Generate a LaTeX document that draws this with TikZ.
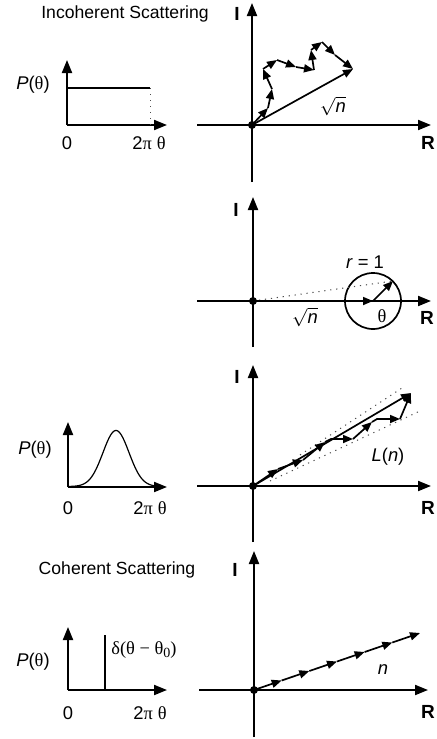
\documentclass[tikz,border=0pt]{standalone}
\usepackage{fontspec}
\setmainfont{Liberation Sans}
\newfontfamily\grkfont{Liberation Serif}
\newcommand{\gk}[1]{{\grkfont #1}}
\usetikzlibrary{arrows.meta,calc}
\begin{document}
\begin{tikzpicture}[x=0.5pt,y=-0.5pt,
  font=\fontsize{9.2}{11}\selectfont,
  axis/.style={line width=1pt,-{Triangle[length=6.5pt,width=5pt]}},
  vec/.style={line width=0.85pt,-{Triangle[length=5pt,width=4pt]}},
  dotline/.style={line width=0.5pt,dash pattern=on 0.6pt off 2.4pt,black!70},
  lbl/.style={inner sep=0pt},
  ttl/.style={inner sep=0pt,font=\fontsize{8.8}{10}\selectfont},
  axlbl/.style={inner sep=0pt,font=\fontsize{9.5}{11}\selectfont\bfseries},
  dotmark/.style={fill=black}]
\useasboundingbox (0,0) rectangle (437,739);

% ================= Panel 1: incoherent =================
\node[ttl] (t1) at (125,14) {Incoherent Scattering};
\coordinate (O1) at (252,125);
\draw[axis] (252,182) -- (252,3);
\draw[axis] (197,125) -- (431,125);
\node[axlbl] (I1) at (237,14) {I};
\node[axlbl] (R1) at (428,143) {R};
\coordinate (w1) at (268,108);
\coordinate (w2) at (272,89);
\coordinate (w3) at (263,69);
\coordinate (w4) at (277,60);
\coordinate (w5) at (296,67);
\coordinate (w6) at (314,70);
\coordinate (w7) at (311,50);
\coordinate (w8) at (322,42);
\coordinate (w9) at (335,55);
\coordinate (w10) at (353,69);
\draw[vec] (O1) -- (w1);
\draw[vec] (w1) -- (w2);
\draw[vec] (w2) -- (w3);
\draw[vec] (w3) -- (w4);
\draw[vec] (w4) -- (w5);
\draw[vec] (w5) -- (w6);
\draw[vec] (w6) -- (w7);
\draw[vec] (w7) -- (w8);
\draw[vec] (w8) -- (w9);
\draw[vec] (w9) -- (w10);
\draw[vec] (O1) -- (w10);
\fill[dotmark] (O1) circle[radius=2pt];
\node[lbl] (sq1) at (333,106) {$\sqrt{\mbox{\itshape n}}$};
% small plot 1
\coordinate (p1) at (67,125);
\draw[axis] (p1) -- (67,60);
\draw[axis] (p1) -- (167,125);
\draw[line width=0.7pt] (67,88) -- (150,88);
\draw[dotline] (150,88) -- (150,125);
\node[lbl] (P1) at (33,85) {\textit{P}(\gk{θ})};
\node[lbl] (z1) at (67,143) {0};
\node[lbl] (tp1) at (149,143) {2\gk{π} \gk{θ}};

% ================= Panel 2: circle =================
\coordinate (O2) at (253,301);
\draw[axis] (253,347) -- (253,197);
\draw[axis] (197,301) -- (431,301);
\node[axlbl] (I2) at (236,210) {I};
\node[axlbl] (R2) at (427,318) {R};
\coordinate (C2) at (373,301);
\coordinate (T2) at (393,281);
\draw[line width=0.85pt] (C2) circle[radius=14pt];
\draw[dotline] (O2) -- (T2);
\draw[vec] (O2) -- (C2);
\draw[vec] (C2) -- (T2);
\fill[dotmark] (O2) circle[radius=2pt];
\node[lbl] (r2) at (365,262) {\textit{r} = 1};
\node[lbl] (th2) at (382,316) {\gk{θ}};
\node[lbl] (sq2) at (305,317) {$\sqrt{\mbox{\itshape n}}$};

% ================= Panel 3: partial coherence =================
\coordinate (O3) at (253,486);
\draw[axis] (253,542) -- (253,365);
\draw[axis] (197,486) -- (431,486);
\node[axlbl] (I3) at (237,377) {I};
\node[axlbl] (R3) at (428,508) {R};
\coordinate (a1) at (278,469);
\coordinate (a2) at (303,460);
\coordinate (a3) at (325,442);
\coordinate (a3b) at (331,439);
\coordinate (a4) at (353,439);
\coordinate (a5) at (372,422);
\coordinate (a5b) at (377,419);
\coordinate (a6) at (400,419);
\coordinate (a7) at (411,393);
\draw[dotline] (300,455) -- (405,386);
\draw[dotline] (270,481) -- (420,411);
\draw[vec] (O3) -- (a1);
\draw[vec] (a1) -- (a2);
\draw[vec] (a2) -- (a3);
\draw[vec] (a3) -- (a3b) -- (a4);
\draw[vec] (a4) -- (a5);
\draw[vec] (a5) -- (a5b) -- (a6);
\draw[vec] (a6) -- (a7);
\draw[vec] (O3) -- (a7);
\fill[dotmark] (O3) circle[radius=2pt];
\node[lbl] (L3) at (388,457) {\textit{L}(\textit{n})};
% small plot 3
\coordinate (p3) at (68,487);
\draw[axis] (p3) -- (68,422);
\draw[axis] (p3) -- (167,487);
\draw[line width=0.6pt] plot[domain=68:160,samples=90] (\x,{486.5-56*exp(-((\x-116)^2)/338)});
\node[lbl] (P3) at (35,450) {\textit{P}(\gk{θ})};
\node[lbl] (z3) at (68,508) {0};
\node[lbl] (tp3) at (150,508) {2\gk{π} \gk{θ}};

% ================= Panel 4: coherent =================
\node[ttl] (t4) at (117,570) {Coherent Scattering};
\coordinate (O4) at (254,690);
\draw[axis] (254,737) -- (254,551);
\draw[axis] (199,690) -- (428,690);
\node[axlbl] (I4) at (235,570) {I};
\node[axlbl] (R4) at (428,712) {R};
\coordinate (E4) at (420,633);
\foreach \i [evaluate=\i as \j using int(\i-1)] in {1,...,6}{
  \draw[vec] ($(O4)!\j/6!(E4)$) -- ($(O4)!\i/6!(E4)$);
}
\fill[dotmark] (O4) circle[radius=2pt];
\node[lbl] (n4) at (383,670) {\textit{n}};
% small plot 4
\coordinate (p4) at (68,690);
\draw[axis] (p4) -- (68,627);
\draw[axis] (p4) -- (167,690);
\draw[line width=1.3pt] (105,690) -- (105,635);
\node[lbl] (P4) at (33,662) {\textit{P}(\gk{θ})};
\node[lbl,anchor=west] (d4) at (111,650) {\gk{δ(θ − θ\raisebox{-0.35ex}{\fontsize{7}{8}\selectfont 0})}};
\node[lbl] (z4) at (68,713) {0};
\node[lbl] (tp4) at (150,713) {2\gk{π} \gk{θ}};
\end{tikzpicture}
\end{document}
